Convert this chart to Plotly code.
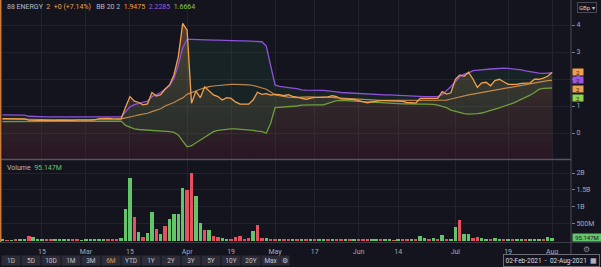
import pandas as pd
import plotly.graph_objects as go

# ---------------- data ----------------
HOLIDAYS = ["2021-04-02", "2021-04-05", "2021-05-03", "2021-05-31"]
DATES = [d.strftime("%Y-%m-%d") for d in pd.bdate_range("2021-02-02", "2021-08-02")
         if d.strftime("%Y-%m-%d") not in HOLIDAYS]

CLOSE = [
    0.53, 0.53, 0.52, 0.52, 0.53, 0.52,
    0.48, 0.47, 0.47, 0.48, 0.47, 0.47, 0.47, 0.48, 0.47, 0.47, 0.47, 0.48, 0.47,
    0.48, 0.48, 0.49, 0.53, 0.54, 0.54, 0.53, 0.53,
    0.52, 0.95, 1.35, 1.18, 1.13, 1.04, 1.08, 1.50, 1.37, 1.42, 1.63, 1.78, 2.15, 2.83, 4.06,
    3.81, 1.10, 1.55, 1.31, 1.71, 1.55, 1.41, 1.35, 1.22, 1.31, 1.28, 1.15, 1.07, 1.07, 1.07, 1.22, 1.51, 1.43, 1.46, 1.40,
    1.43, 1.42, 1.38, 1.42, 1.36, 1.33, 1.28, 1.25, 1.28, 1.32, 1.32, 1.32, 1.34, 1.38, 1.35, 1.26, 1.26, 1.25, 1.24,
    1.20, 1.16, 1.12, 1.15, 1.18, 1.20, 1.20, 1.20, 1.18, 1.18, 1.17, 1.13, 1.12, 1.11, 1.28, 1.28, 1.28, 1.28, 1.28, 1.53, 1.44, 1.49,
    1.99, 2.15, 2.10, 2.25, 2.00, 1.69, 1.86, 1.88, 1.75, 1.94, 1.99, 1.90, 1.80, 1.80, 1.80, 1.84, 1.86, 1.86, 1.99, 1.99, 2.03, 2.10,
    2.25,
]
BB_UPPER = [
    0.67, 0.67, 0.67, 0.66, 0.66, 0.66,
    0.62, 0.61, 0.60, 0.60, 0.60, 0.60, 0.60, 0.60, 0.60, 0.60, 0.60, 0.60, 0.60,
    0.60, 0.60, 0.60, 0.60, 0.60, 0.60, 0.60, 0.60,
    0.60, 0.78, 0.97, 1.05, 1.10, 1.13, 1.18, 1.35, 1.42, 1.50, 1.62, 1.75, 2.02, 2.52, 3.15,
    3.47, 3.47, 3.46, 3.46, 3.45, 3.45, 3.44, 3.44, 3.43, 3.43, 3.42, 3.42, 3.41, 3.41, 3.40, 3.40, 3.39, 3.38, 3.22, 2.55,
    1.78, 1.73, 1.70, 1.68, 1.66, 1.64, 1.60, 1.59, 1.59, 1.59, 1.59, 1.58, 1.56, 1.53, 1.52, 1.50, 1.49, 1.47, 1.46,
    1.45, 1.44, 1.43, 1.42, 1.41, 1.41, 1.41, 1.41, 1.40, 1.39, 1.38, 1.37, 1.36, 1.35, 1.35, 1.35, 1.35, 1.35, 1.35, 1.42, 1.56, 1.72,
    1.90, 2.09, 2.18, 2.23, 2.31, 2.33, 2.35, 2.36, 2.37, 2.38, 2.40, 2.40, 2.39, 2.38, 2.36, 2.34, 2.30, 2.27, 2.25, 2.22, 2.21, 2.21,
    2.2285,
]
BB_MIDDLE = [
    0.52, 0.52, 0.52, 0.51, 0.51, 0.51,
    0.50, 0.50, 0.50, 0.50, 0.49, 0.49, 0.49, 0.49, 0.49, 0.48, 0.48, 0.48, 0.48,
    0.48, 0.48, 0.48, 0.49, 0.49, 0.49, 0.50, 0.50,
    0.52, 0.55, 0.60, 0.63, 0.67, 0.70, 0.73, 0.79, 0.84, 0.90, 1.00, 1.06, 1.13, 1.22, 1.30,
    1.43, 1.50, 1.55, 1.62, 1.67, 1.72, 1.74, 1.76, 1.78, 1.79, 1.80, 1.80, 1.80, 1.79, 1.78, 1.76, 1.72, 1.68, 1.62, 1.52,
    1.42, 1.38, 1.35, 1.33, 1.32, 1.31, 1.33, 1.34, 1.34, 1.33, 1.33, 1.33, 1.32, 1.32, 1.30, 1.29, 1.28, 1.26, 1.25,
    1.24, 1.23, 1.22, 1.22, 1.21, 1.21, 1.21, 1.21, 1.20, 1.20, 1.20, 1.20, 1.20, 1.20, 1.20, 1.20, 1.20, 1.20, 1.20, 1.21, 1.22, 1.26,
    1.30, 1.35, 1.38, 1.41, 1.44, 1.47, 1.50, 1.53, 1.56, 1.59, 1.62, 1.65, 1.69, 1.72, 1.75, 1.78, 1.80, 1.83, 1.86, 1.90, 1.92, 1.94,
    1.9475,
]
BB_LOWER = [
    0.42, 0.42, 0.42, 0.42, 0.42, 0.42,
    0.43, 0.43, 0.43, 0.43, 0.43, 0.43, 0.43, 0.43, 0.43, 0.44, 0.44, 0.44, 0.44,
    0.44, 0.44, 0.44, 0.44, 0.44, 0.44, 0.44, 0.44,
    0.44, 0.28, 0.20, 0.15, 0.13, 0.12, 0.11, 0.11, 0.10, 0.08, 0.06, 0.05, 0.02, -0.07, -0.30,
    -0.51, -0.47, -0.38, -0.26, -0.16, -0.04, 0.05, 0.10, 0.12, 0.14, 0.15, 0.15, 0.14, 0.12, 0.11, 0.10, 0.07, 0.05, -0.01, 0.36,
    0.94, 0.95, 0.96, 0.97, 0.98, 1.00, 1.03, 1.04, 1.04, 1.04, 1.04, 1.04, 1.10, 1.15, 1.20, 1.21, 1.20, 1.19, 1.18,
    1.16, 1.15, 1.14, 1.13, 1.12, 1.11, 1.11, 1.10, 1.09, 1.09, 1.08, 1.08, 1.07, 1.07, 1.07, 1.07, 1.07, 1.06, 1.03, 0.98, 0.94, 0.85,
    0.80, 0.75, 0.72, 0.70, 0.70, 0.72, 0.74, 0.78, 0.83, 0.88, 0.93, 0.98, 1.04, 1.10, 1.17, 1.25, 1.30, 1.40, 1.50, 1.62, 1.65, 1.67,
    1.6664,
]
VOLUME_M = [
    30, 25, 20, 35, 40, 30,
    140, 110, 50, 60, 40, 30, 40, 50, 40, 50, 35, 30, 25,
    30, 40, 60, 55, 55, 40, 40, 35,
    100, 930, 1850, 700, 250, 130, 230, 840, 350, 220, 430, 660, 800, 790, 1550,
    1510, 2000, 1330, 520, 310, 330, 160, 120, 90, 70, 70, 130, 160, 70, 80, 280, 460, 80, 100, 60,
    50, 40, 40, 30, 40, 30, 35, 30, 40, 30, 30, 35, 40, 70, 40, 30, 40, 30, 30,
    35, 60, 40, 30, 35, 30, 40, 30, 25, 30, 35, 55, 30, 40, 140, 90, 60, 100, 50, 170, 50, 40,
    400, 610, 200, 210, 90, 130, 100, 70, 50, 100, 50, 40, 35, 40, 30, 35, 40, 30, 60, 55, 35, 110,
    95.147,
]
# bar direction per day: u = up (green), d = down (red)
VOLUME_DIR = list(
    "ududuu"
    "duuudduuuuddu"
    "uuuuuddd"
    "uuududuududuuuu"
    "dduududduuddddduddud"
    "duddudududuududdudu"
    "ddduuduududduduududud" "u"
    "uduudduuduududuuduuudu"
    "u"
)

XTICK_DATES = ["2021-02-15", "2021-03-01", "2021-03-15", "2021-04-01", "2021-04-19", "2021-05-04",
               "2021-05-17", "2021-06-01", "2021-06-14", "2021-07-01", "2021-07-19", "2021-08-02"]
XTICK_LABELS = ["15", "Mar", "15", "Apr", "19", "May", "17", "Jun", "14", "Jul", "19", "Aug"]
PRICE_TICKS = [0, 1, 2, 3, 4]
VOL_TICKS = [500, 1000, 1500, 2000]
VOL_TICK_LABELS = ["500M", "1B", "1.5B", "2B"]
BUTTONS = ["1D", "5D", "10D", "1M", "3M", "6M", "YTD", "1Y", "2Y", "3Y", "5Y", "10Y", "20Y", "Max"]

# ---------------- style ----------------
W, H = 601, 267
PLOT_R = 571          # right edge of plot area (px)
PLOT_B = 242          # bottom edge of plot area (px)
BG = "#14141f"
GRID = "#22222e"
TXT = "#a9a9b3"
ORANGE = "#f2a04c"
MID = "rgba(222,150,84,0.85)"
PURPLE = "#8e52dc"
LGREEN = "#6f9e3c"
UPC = "#63c46a"
DNC = "#e5525f"
FONT = "Roboto, Noto Sans, sans-serif"
PRICE_MIN, PRICE_MAX = -0.963, 4.926


def px(xp):
    return xp / PLOT_R


def py(yp):
    return (PLOT_B - yp) / PLOT_B


n = len(DATES)
fig = go.Figure()

# baseline for price area fill (axis bottom)
fig.add_trace(go.Scatter(x=DATES, y=[PRICE_MIN] * n, mode="lines", line=dict(width=0),
                         hoverinfo="skip", showlegend=False, xaxis="x", yaxis="y"))
fig.add_trace(go.Scatter(
    x=DATES, y=CLOSE, mode="lines", line=dict(width=0), fill="tonexty",
    fillgradient=dict(type="vertical", start=PRICE_MIN, stop=4.1,
                      colorscale=[[0.0, "rgba(110,25,45,0.24)"],
                                  [0.3, "rgba(150,100,80,0.19)"],
                                  [1.0, "rgba(245,165,80,0.30)"]]),
    hoverinfo="skip", showlegend=False, xaxis="x", yaxis="y"))
fig.add_trace(go.Scatter(x=DATES, y=BB_UPPER, mode="lines", line=dict(color=PURPLE, width=1.3),
                         showlegend=False, xaxis="x", yaxis="y"))
fig.add_trace(go.Scatter(x=DATES, y=BB_LOWER, mode="lines", line=dict(color=LGREEN, width=1.3),
                         fill="tonexty", fillcolor="rgba(45,120,70,0.16)",
                         showlegend=False, xaxis="x", yaxis="y"))
fig.add_trace(go.Scatter(x=DATES, y=BB_MIDDLE, mode="lines", line=dict(color=MID, width=1.2),
                         showlegend=False, xaxis="x", yaxis="y"))
fig.add_trace(go.Scatter(x=DATES, y=CLOSE, mode="lines", line=dict(color=ORANGE, width=1.3),
                         showlegend=False, xaxis="x", yaxis="y"))

fig.add_trace(go.Bar(x=DATES, y=VOLUME_M,
                     marker=dict(color=[UPC if d == "u" else DNC for d in VOLUME_DIR],
                                 line=dict(width=0)),
                     width=0.78, showlegend=False, xaxis="x", yaxis="y2"))

fig.update_layout(
    width=W, height=H, margin=dict(l=0, r=W - PLOT_R, t=0, b=H - PLOT_B),
    paper_bgcolor=BG, plot_bgcolor=BG, font=dict(family=FONT, size=7, color=TXT),
    showlegend=False, hovermode=False, bargap=0,
    xaxis=dict(domain=[0, 1], anchor="y2", type="category", range=[-0.55, 129.3],
               tickmode="array", tickvals=XTICK_DATES, ticktext=XTICK_LABELS,
               showgrid=True, gridcolor=GRID, gridwidth=1, zeroline=False, showline=False,
               ticks="", ticklabelstandoff=4, tickfont=dict(size=7, color=TXT)),
    yaxis=dict(domain=[py(159), 1], anchor="x", side="right", range=[PRICE_MIN, PRICE_MAX],
               tickmode="array", tickvals=PRICE_TICKS, showgrid=True, gridcolor=GRID,
               zeroline=False, ticks="outside", ticklen=3, tickcolor="#7a7a86",
               tickfont=dict(size=7, color=TXT)),
    yaxis2=dict(domain=[0, py(161)], anchor="x", side="right", range=[-30, 2353],
                tickmode="array", tickvals=VOL_TICKS, ticktext=VOL_TICK_LABELS,
                showgrid=True, gridcolor=GRID, zeroline=False, ticks="outside", ticklen=3,
                tickcolor="#7a7a86", tickfont=dict(size=7, color=TXT)),
)

shapes = [
    dict(type="line", xref="paper", yref="paper", x0=0, x1=1, y0=py(159.5), y1=py(159.5),
         line=dict(color="#55555f", width=1.5)),
    dict(type="line", xref="paper", yref="paper", x0=0, x1=px(W), y0=py(242.5), y1=py(242.5),
         line=dict(color="#3c3c48", width=1)),
    dict(type="line", xref="paper", yref="paper", x0=1, x1=1, y0=py(255), y1=1,
         line=dict(color="#4a4a56", width=1)),
    dict(type="line", xref="paper", yref="paper", x0=px(0.7), x1=px(0.7), y0=py(242), y1=1,
         line=dict(color="#c97b3a", width=1.5)),
]
fig.update_layout(shapes=shapes)

ann = []
ann.append(dict(xref="paper", yref="paper", x=px(5), y=py(7), xanchor="left", yanchor="middle",
                showarrow=False, font=dict(size=7, color="#b9b9c2"),
                text=("88 ENERGY&nbsp;&nbsp;<span style='color:#f2a04c'>2&nbsp;&nbsp;+0 (+7.14%)</span>"
                      "&nbsp;&nbsp;&nbsp;BB 20 2&nbsp;&nbsp;<span style='color:#f2a04c'>1.9475</span>"
                      "&nbsp;&nbsp;<span style='color:#9a5ce0'>2.2285</span>"
                      "&nbsp;&nbsp;<span style='color:#8cc84b'>1.6664</span>")))
ann.append(dict(xref="paper", yref="paper", x=px(5), y=py(168), xanchor="left", yanchor="middle",
                showarrow=False, font=dict(size=7, color="#b9b9c2"),
                text="Volume&nbsp;&nbsp;<span style='color:#63c46a'>95.147M</span>"))
# last-value labels on the price scale
for yp, col in [(72, "#f2a04c"), (80.5, "#9a55e6"), (89, "#e9a050"), (97.5, "#8fd24f")]:
    ann.append(dict(xref="paper", yref="paper", x=px(PLOT_R + 1), y=py(yp), xanchor="left",
                    yanchor="middle", showarrow=False, text="2", bgcolor=col, width=10, height=6,
                    borderpad=0, font=dict(size=6, color="#222222")))
ann.append(dict(xref="paper", yref="paper", x=px(PLOT_R + 1), y=py(237), xanchor="left",
                yanchor="middle", showarrow=False, text="95.147M", bgcolor="#63c46a", width=28,
                height=7, borderpad=0, font=dict(size=6, color="#1a1a1a")))
ann.append(dict(xref="paper", yref="paper", x=px(587), y=py(7.5), xanchor="center",
                yanchor="middle", showarrow=False, text="GBp ▾", bordercolor="#4a4a56",
                borderwidth=1, borderpad=1, bgcolor=BG, font=dict(size=6, color="#c9c9d0")))
ann.append(dict(xref="paper", yref="paper", x=px(586), y=py(249), xanchor="center",
                yanchor="middle", showarrow=False, text="⚙", font=dict(size=8, color="#8a8a94")))
# range buttons
for i, b in enumerate(BUTTONS):
    ann.append(dict(xref="paper", yref="paper", x=px(11 + 20 * i), y=py(260), xanchor="center",
                    yanchor="middle", showarrow=False, text=b, bgcolor="#2c2c38", width=18,
                    height=9, borderpad=0,
                    font=dict(size=6.5, color="#e8904a" if b == "6M" else "#c3c3cc")))
ann.append(dict(xref="paper", yref="paper", x=px(285), y=py(260), xanchor="center",
                yanchor="middle", showarrow=False, text="⚙", bgcolor="#2c2c38", width=8,
                height=9, borderpad=0, font=dict(size=7, color="#c3c3cc")))
ann.append(dict(xref="paper", yref="paper", x=px(551.5), y=py(260), xanchor="center",
                yanchor="middle", showarrow=False,
                text="02-Feb-2021&nbsp;&nbsp;-&nbsp;&nbsp;02-Aug-2021&nbsp;&nbsp;▦",
                bordercolor="#6a6a74", borderwidth=1, borderpad=1.5, bgcolor=BG,
                font=dict(size=6.5, color="#dcdce2")))
fig.update_layout(annotations=ann)

fig.write_html("out.html")
